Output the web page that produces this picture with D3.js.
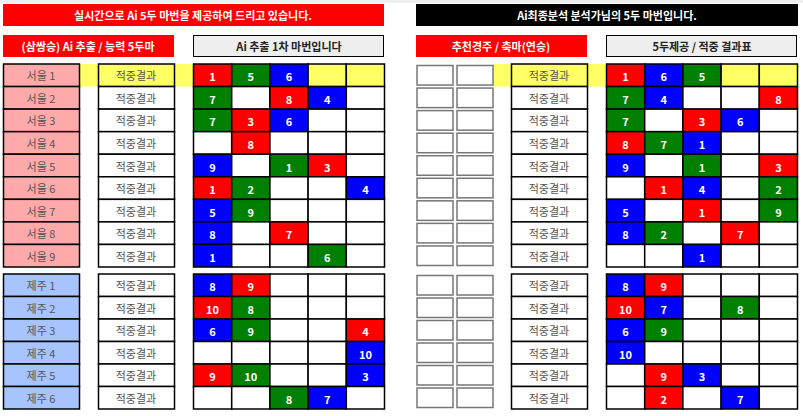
<!DOCTYPE html>
<html><head><meta charset="utf-8">
<script src="https://cdn.jsdelivr.net/npm/d3@7"></script>
<style>body{margin:0;background:#fff}text{font-family:"Noto Sans CJK KR","Noto Sans",sans-serif}</style>
</head><body><svg id="c" width="803" height="416"></svg>
<script>
const seoulNames = ["서울 1","서울 2","서울 3","서울 4","서울 5","서울 6","서울 7","서울 8","서울 9"];
const jejuNames = ["제주 1","제주 2","제주 3","제주 4","제주 5","제주 6"];
const leftSeoul = [
 ["1R","5G","6B","",""],["7G","","8R","4B",""],["7G","3R","6B","",""],["","8R","","",""],
 ["9B","","1G","3R",""],["1R","2G","","","4B"],["5B","9G","","",""],["8B","","7R","",""],["1B","","","6G",""]];
const leftJeju = [
 ["8B","9R","","",""],["10R","8G","","",""],["6B","9G","","","4R"],["","","","","10B"],["9R","10G","","","3B"],["","","8G","7B",""]];
const rightSeoul = [
 ["1R","6B","5G","",""],["7G","4B","","","8R"],["7G","","3R","6B",""],["8R","7G","1B","",""],
 ["9B","","1G","","3R"],["","1R","4B","","2G"],["5B","","1R","","9G"],["8B","2G","","7R",""],["","","1B","",""]];
const rightJeju = [
 ["8B","9R","","",""],["10R","7B","","8G",""],["6B","9G","","",""],["10B","","","",""],["","9R","3B","",""],["","2R","","7B",""]];
const titles = ["실시간으로 Ai 5두 마번을 제공하여 드리고 있습니다.","Ai최종분석 분석가님의 5두 마번입니다."];
const subLeft = ["(삼쌍승) Ai 추출 / 능력 5두마","Ai 추출 1차 마번입니다"];
const subRight = ["추천경주 / 축마(연승)","5두제공 / 적중 결과표"];
const resultLabel = "적중결과";

const svg = d3.select("#c");
const col = {R:"#ff0000",G:"#008000",B:"#0000ff"};
const yS = d3.scaleBand().domain(d3.range(9)).range([64,267]);
const yJ = d3.scaleBand().domain(d3.range(6)).range([274,409]);

function box(x,y,w,h,fill,stroke,sw){svg.append("rect").attr("x",x).attr("y",y).attr("width",w).attr("height",h).attr("fill",fill).attr("stroke",stroke||"none").attr("stroke-width",sw||1);}
function txt(x,y,s,fill,size,weight){svg.append("text").attr("x",x).attr("y",y).attr("text-anchor","middle").attr("dominant-baseline","central").attr("fill",fill).attr("font-size",size).attr("font-weight",weight||"normal").text(s);}

svg.append("rect").attr("width",803).attr("height",3).attr("fill","#eee");
// titles
box(3,4,381,22,"#ff0000"); txt(193,15,titles[0],"#fff",11,"bold");
box(416,4,382,22,"#000"); txt(607,15,titles[1],"#fff",11,"bold");
box(3,35,171,22,"#ff0000"); txt(88,46,subLeft[0],"#fff",11,"bold");
box(193.5,35.5,190,21,"#eeeeee","#000"); txt(289,46,subLeft[1],"#222",11,"bold");
box(416,35,171,22,"#ff0000"); txt(501,46,subRight[0],"#fff",11,"bold");
box(606.5,35.5,190,21,"#eeeeee","#000"); txt(702,46,subRight[1],"#222",11,"bold");

function grid(x0,y,data,n){
  const xs = d3.scaleBand().domain(d3.range(5)).range([x0,x0+191]);
  data.forEach((row,i)=>{
    row.forEach((v,j)=>{
      const c = v? col[v.slice(-1)] : ((i===0&&n==="S")?"#ffff66":"#fff");
      box(xs(j),y(i),xs.bandwidth(),y.bandwidth(),c,"#000",1.5);
      if(v) txt(xs(j)+xs.bandwidth()/2,y(i)+y.bandwidth()/2+1,v.slice(0,-1),"#fff",11,"bold");
    });
  });
}
function section(names,lData,rData,y,n,fill){
  if(n==="S"){ box(79,y(0),114,y.bandwidth(),"#ffff66"); box(493,y(0),113,y.bandwidth(),"#ffff66"); }
  d3.range(lData.length).forEach(i=>{
    const yy=y(i),h=y.bandwidth();
    if(names){ box(3.5,yy,76,h,fill,"#000",1.5); txt(41,yy+h/2,names[i],"#555",11); }
    const rf=(i===0&&n==="S")?"#ffff66":"#fff";
    box(98.5,yy,76,h,rf,"#000",1.5); txt(136,yy+h/2,resultLabel,"#555",11);
    box(417,yy+1.5,36,h-3,"#fff","#777",1.5); box(457,yy+1.5,36,h-3,"#fff","#777",1.5);
    box(511.5,yy,76,h,rf,"#000",1.5); txt(549,yy+h/2,resultLabel,"#555",11);
  });
  grid(193.5,y,lData,n); grid(606.5,y,rData,n);
}
section(seoulNames,leftSeoul,rightSeoul,yS,"S","#ffaaaa");
section(jejuNames,leftJeju,rightJeju,yJ,"J","#a8c4ff");
</script></body></html>
